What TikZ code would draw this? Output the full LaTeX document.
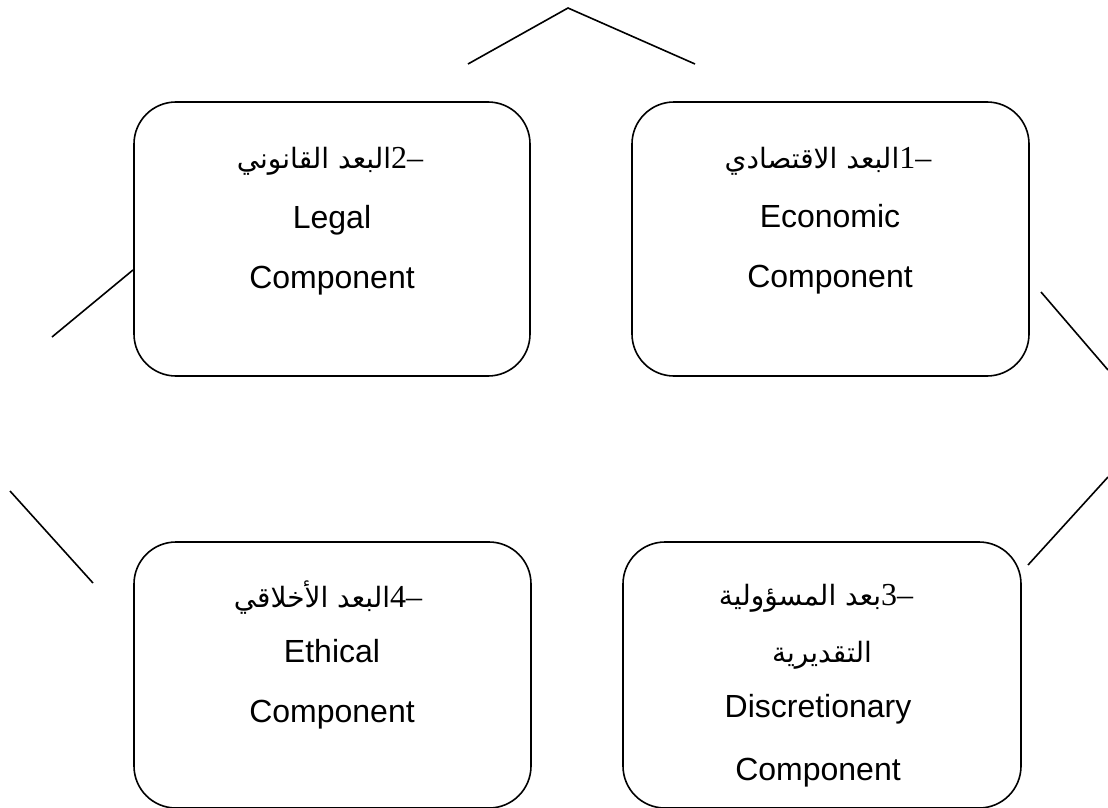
\documentclass[tikz,border=0pt]{standalone}
\usepackage{fontspec}
\setmainfont{Liberation Sans}
\newfontfamily\arabicfont[Script=Arabic]{DejaVu Sans}
\newfontfamily\numfont{Liberation Serif}
\newcommand{\numpart}[1]{{\numfont\fontsize{32}{38}\selectfont #1}}
\TeXXeTstate=1
\begin{document}
\begin{tikzpicture}[x=1pt,y=-1pt,
  box/.style={draw, line width=1.6pt, rounded corners=42pt, inner sep=0pt},
  lbl/.style={anchor=base, inner sep=0pt, font=\fontsize{32}{38}\selectfont},
  arl/.style={anchor=base, inner sep=0pt, font=\fontsize{28}{34}\selectfont},
  deco/.style={line width=1.6pt}]
\useasboundingbox (0,0) rectangle (1108,808);
% boxes
\node[box, minimum width=396pt, minimum height=274pt] (bl) at (332,239) {};
\node[box, minimum width=397pt, minimum height=274pt] (br) at (830.5,239) {};
\node[box, minimum width=397pt, minimum height=266pt] (el) at (332.5,675) {};
\node[box, minimum width=398pt, minimum height=266pt] (dr) at (822,675) {};
% top-right box: economic
\node[arl] (e1) at (828,168) {{\arabicfont\beginR البعد الاقتصادي\endR}\numpart{1–}};
\node[lbl] (e2) at (830,227) {Economic};
\node[lbl] (e3) at (830,287) {Component};
% top-left box: legal
\node[arl] (l1) at (330,168) {{\arabicfont\beginR البعد القانوني\endR}\numpart{2–}};
\node[lbl] (l2) at (332,228) {Legal};
\node[lbl] (l3) at (332,288) {Component};
% bottom-right box: discretionary
\node[arl] (d1) at (816,605) {{\arabicfont\beginR بعد المسؤولية\endR}\numpart{3–}};
\node[arl] (d2) at (822,662) {{\arabicfont\beginR التقديرية\endR}};
\node[lbl] (d3) at (818,717) {Discretionary};
\node[lbl] (d4) at (818,780) {Component};
% bottom-left box: ethical
\node[arl] (h1) at (328,607) {{\arabicfont\beginR البعد الأخلاقي\endR}\numpart{4–}};
\node[lbl] (h2) at (332,662) {Ethical};
\node[lbl] (h3) at (332,722) {Component};
% decorative lines
\coordinate (ta) at (468,64);
\coordinate (tb) at (568,8);
\coordinate (tc) at (695,64);
\coordinate (lua) at (52,337);
\coordinate (lub) at (133,270);
\coordinate (lla) at (10,491);
\coordinate (llb) at (93,583);
\coordinate (rua) at (1041,292);
\coordinate (rub) at (1108,370);
\coordinate (rla) at (1108,477);
\coordinate (rlb) at (1028,565);
\draw[deco] (ta) -- (tb) -- (tc);
\draw[deco] (lua) -- (lub);
\draw[deco] (lla) -- (llb);
\draw[deco] (rua) -- (rub);
\draw[deco] (rla) -- (rlb);
\end{tikzpicture}
\end{document}
